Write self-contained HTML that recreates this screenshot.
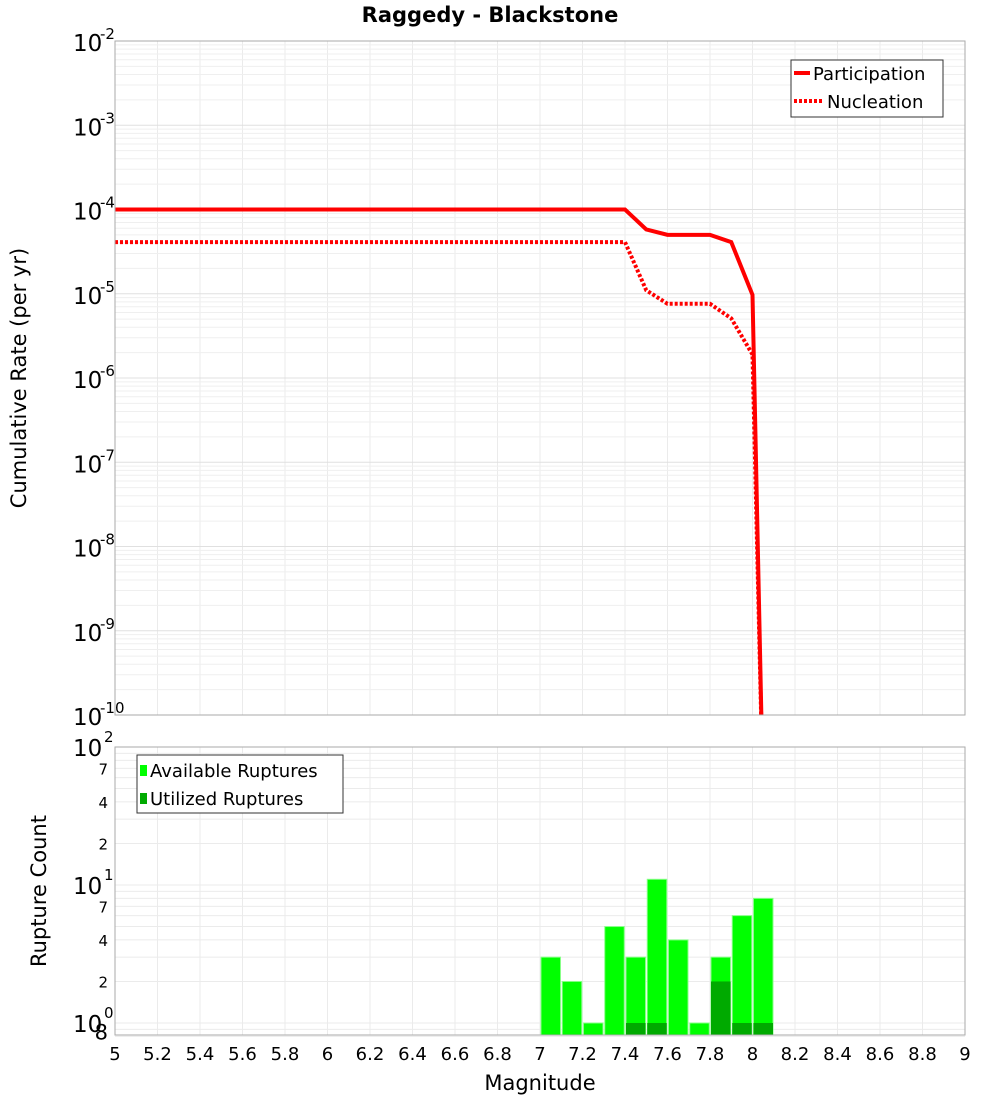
<!DOCTYPE html>
<html><head><meta charset="utf-8"><style>
body{margin:0;background:#fff;}
svg text{font-family:"DejaVu Sans","Liberation Sans",sans-serif;}
</style></head><body>
<svg id="chart" width="1000" height="1100" xmlns="http://www.w3.org/2000/svg">
<text x="490" y="22" text-anchor="middle" font-size="21" font-weight="bold">Raggedy - Blackstone</text>
<g id="grid"></g>
<g id="marks"></g>
<rect x="115" y="41" width="850" height="674" fill="none" stroke="#aaa"/>
<rect x="115" y="747" width="850" height="288" fill="none" stroke="#aaa"/>
<g id="labels"></g>
<text transform="translate(26,378) rotate(-90)" text-anchor="middle" font-size="21">Cumulative Rate (per yr)</text>
<text transform="translate(46,891) rotate(-90)" text-anchor="middle" font-size="21">Rupture Count</text>
<text x="540" y="1090" text-anchor="middle" font-size="21">Magnitude</text>
<g>
<rect x="791" y="60" width="152" height="57" fill="#fff" stroke="#333"/>
<line x1="794" y1="73" x2="810" y2="73" stroke="#f00" stroke-width="4"/>
<text x="813" y="80" font-size="18">Participation</text>
<line x1="794" y1="101" x2="822" y2="101" stroke="#f00" stroke-width="4" stroke-dasharray="3,2"/>
<text x="827" y="108" font-size="18">Nucleation</text>
</g>
<g>
<rect x="137" y="755" width="206" height="58" fill="#fff" stroke="#333"/>
<rect x="140" y="765" width="7" height="11" fill="#00ff00"/>
<text x="150" y="777" font-size="18">Available Ruptures</text>
<rect x="140" y="793" width="7" height="11" fill="#00aa00"/>
<text x="150" y="805" font-size="18">Utilized Ruptures</text>
</g>
</svg>
<script>
const partMags=[5.0,7.4,7.5,7.6,7.7,7.8,7.9,8.0,8.05];
const partRates=[1e-4,1e-4,5.8e-5,5e-5,5e-5,5e-5,4.1e-5,9.7e-6,1e-11];
const nuclMags=[5.0,7.4,7.5,7.6,7.7,7.8,7.9,8.0,8.05];
const nuclRates=[4.1e-5,4.1e-5,1.1e-5,7.6e-6,7.6e-6,7.6e-6,5.1e-6,1.9e-6,1e-11];
const barMags=[7.0,7.1,7.2,7.3,7.4,7.5,7.6,7.7,7.8,7.9,8.0];
const availCounts=[3,2,1,5,3,11,4,1,3,6,8];
const usedCounts=[0,0,0,0,1,1,0,0,2,1,1];
const xTicks=[5,5.2,5.4,5.6,5.8,6,6.2,6.4,6.6,6.8,7,7.2,7.4,7.6,7.8,8,8.2,8.4,8.6,8.8,9];
const topExps=[-2,-3,-4,-5,-6,-7,-8,-9,-10];
const NS="http://www.w3.org/2000/svg";
const X=m=>115+(m-5)*212.5;
const YT=v=>41+(-2-Math.log10(v))*84.25;
const YB=v=>747+(2-Math.log10(v))*138;
function mk(p,t,a){const e=document.createElementNS(NS,t);for(const k in a)e.setAttribute(k,a[k]);document.getElementById(p).appendChild(e);return e;}
for(let m=5;m<=9.001;m+=0.2){
 let g=mk('grid','line',{x1:X(m),x2:X(m),y1:41,y2:715,stroke:'#ebebeb'});
 
 
 g=mk('grid','line',{x1:X(m),x2:X(m),y1:747,y2:1035,stroke:'#ebebeb'});
 
 
}
for(let e=-10;e<-2;e++)for(let k=1;k<10;k++){
 const y=YT(k*Math.pow(10,e));
 const g=mk('grid','line',{x1:115,x2:965,y1:y,y2:y,stroke:k==1?'#e0e0e0':'#efefef'});
 
 
}
for(let e=-1;e<2;e++)for(let k=1;k<10;k++){
 const v=k*Math.pow(10,e);if(v<0.8)continue;
 const y=YB(v);
 const g=mk('grid','line',{x1:115,x2:965,y1:y,y2:y,stroke:'#ebebeb'});
 
 
}
const yBase=1035;
barMags.forEach((m,i)=>{
 const x=X(m)+1,w=19.5;
 let r=mk('marks','rect',{x:x,y:YB(availCounts[i]),width:w,height:yBase-YB(availCounts[i]),fill:'#00ff00',stroke:'#88ff88','stroke-width':1});
 
 
 if(usedCounts[i]>0){
  r=mk('marks','rect',{x:x,y:YB(usedCounts[i]),width:w,height:yBase-YB(usedCounts[i]),fill:'#00aa00'});
  
  
 }
});
const cp=mk('marks','clipPath',{id:'cp'});
const cr=document.createElementNS(NS,'rect');
cr.setAttribute('x',115);cr.setAttribute('y',41);cr.setAttribute('width',850);cr.setAttribute('height',674);cp.appendChild(cr);
let pl=mk('marks','polyline',{points:partMags.map((m,i)=>X(m)+','+YT(partRates[i])).join(' '),fill:'none',stroke:'#f00','stroke-width':4,'clip-path':'url(#cp)'});


pl=mk('marks','polyline',{points:nuclMags.map((m,i)=>X(m)+','+YT(nuclRates[i])).join(' '),fill:'none',stroke:'#f00','stroke-width':4,'stroke-dasharray':'3,2','clip-path':'url(#cp)'});


xTicks.forEach(m=>{
 const t=mk('labels','text',{x:X(m),y:1060,'text-anchor':'middle','font-size':18});
 t.textContent=String(m);
 
 
});
topExps.forEach(e=>{
 const y=YT(Math.pow(10,e));
 const t=mk('labels','text',{x:73,y:y+10,'font-size':23});
 t.textContent='10';
 
 
 const s=mk('labels','text',{x:100,y:y-2,'font-size':15});
 s.textContent=String(e);
 
 
});
[[2,100],[1,10],[0,1]].forEach(([e,v])=>{
 const y=YB(v);
 const t=mk('labels','text',{x:73,y:y+9,'font-size':23});
 t.textContent='10';
 
 
 const s=mk('labels','text',{x:104,y:y-5,'font-size':15});
 s.textContent=String(e);
 
 
});
[[7,70],[4,40],[2,20],[7,7],[4,4],[2,2],[8,0.8]].forEach(([d,v])=>{
 const t=mk('labels','text',{x:108,y:YB(v)+(d==8?3:6),'text-anchor':'end','font-size':d==8?21:15});
 t.textContent=String(d);
 
 
});
</script>
</body></html>
